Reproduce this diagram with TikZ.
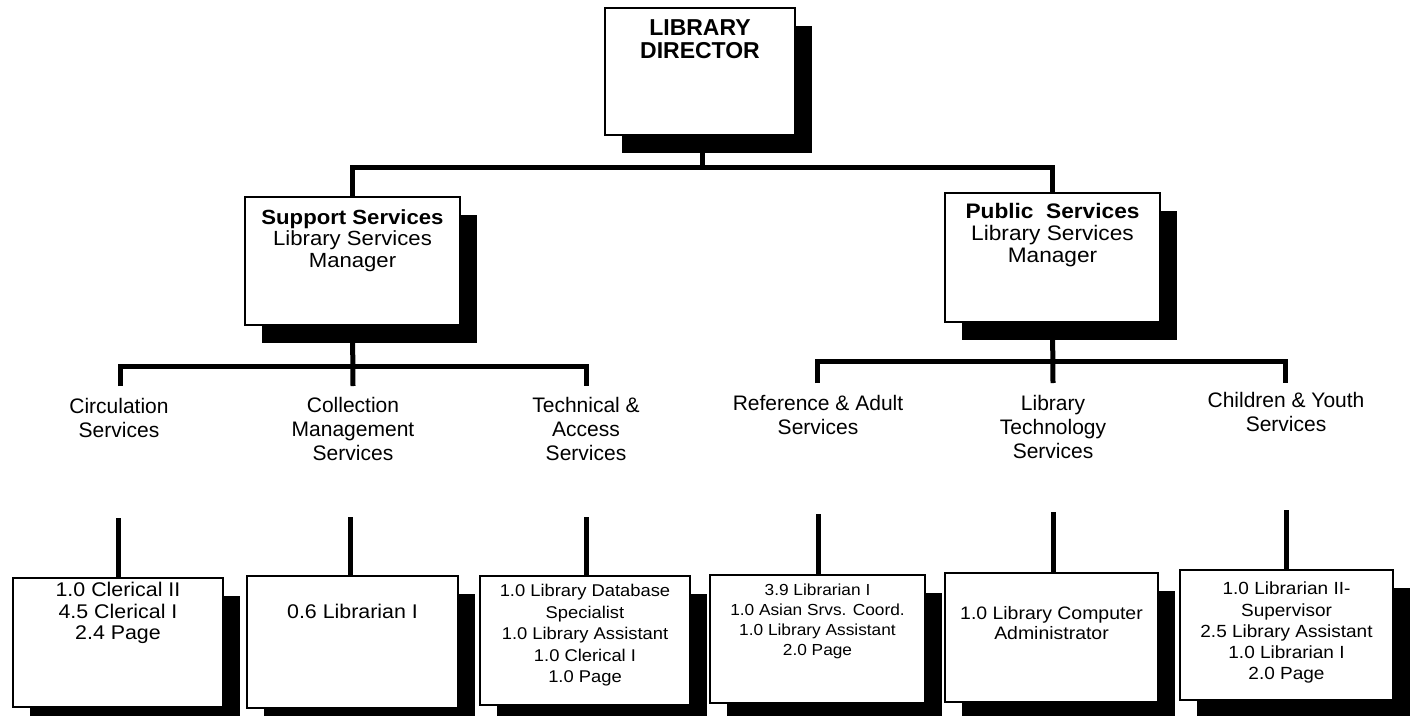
\documentclass[tikz,border=0pt]{standalone}
\usepackage{fontspec}
\setmainfont{Liberation Sans}
\newfontfamily\bxfont[FakeStretch=1.08]{Liberation Sans}
\usetikzlibrary{shadows}
\begin{document}
\begin{tikzpicture}[x=1pt,y=-1pt,
  box/.style={draw=black, line width=1.3pt, fill=white, inner sep=0pt, outer sep=0pt,
    drop shadow={shadow xshift=17pt, shadow yshift=-18pt, fill=black, opacity=1}},
  conn/.style={line width=5pt, draw=black},
  lab/.style={anchor=north, align=center, inner sep=0pt, font=\fontsize{21}{24}\selectfont},
  boxtxt/.style={anchor=north, align=center, inner sep=0pt}
]
\useasboundingbox (0,0) rectangle (1410,715);
\fill[white] (0,0) rectangle (1410,715);
\clip (0,0) rectangle (1410,715);

% boxes
\node[box, minimum width=190pt, minimum height=127pt] (dir) at (700,71.5) {};
\node[box, minimum width=215pt, minimum height=128pt] (sup) at (352.5,261) {};
\node[box, minimum width=215pt, minimum height=129pt] (pub) at (1052.5,257.5) {};
\node[box, minimum width=210pt, minimum height=129pt] (b1) at (118,642.5) {};
\node[box, minimum width=211pt, minimum height=132pt] (b2) at (352.5,642) {};
\node[box, minimum width=210pt, minimum height=129pt] (b3) at (585,640.5) {};
\node[box, minimum width=215pt, minimum height=128pt] (b4) at (817.5,639) {};
\node[box, minimum width=213pt, minimum height=129pt] (b5) at (1051.5,637.5) {};
\node[box, minimum width=213pt, minimum height=130pt] (b6) at (1286.5,635) {};

% box texts
\node[boxtxt, font=\fontsize{23}{23.5}\selectfont\bfseries] (dirt) at (700,19) {LIBRARY\\DIRECTOR};
\node[boxtxt, font=\bxfont\fontsize{20.5}{21.5}\selectfont] (supt) at (352.5,209) {\textbf{Support Services}\\Library Services\\Manager};
\node[boxtxt, font=\bxfont\fontsize{21}{22}\selectfont] (pubt) at (1052.5,203) {\textbf{Public\ \ Services}\\Library Services\\Manager};
\node[boxtxt, font=\bxfont\fontsize{19.8}{21.5}\selectfont] (b1t) at (118,582) {1.0 Clerical II\\4.5 Clerical I\\2.4 Page};
\node[boxtxt, font=\bxfont\fontsize{19.8}{21}\selectfont] (b2t) at (352.5,604) {0.6 Librarian I};
\node[boxtxt, font=\bxfont\fontsize{17}{21.5}\selectfont] (b3t) at (585,584) {1.0 Library Database\\Specialist\\1.0 Library Assistant\\1.0 Clerical I\\1.0 Page};
\node[boxtxt, font=\bxfont\fontsize{16}{20}\selectfont] (b4t) at (817.5,584) {3.9 Librarian I\\1.0 Asian Srvs. Coord.\\1.0 Library Assistant\\2.0 Page};
\node[boxtxt, font=\bxfont\fontsize{18}{20}\selectfont] (b5t) at (1051.5,606) {1.0 Library Computer\\Administrator};
\node[boxtxt, font=\bxfont\fontsize{17.6}{21.2}\selectfont] (b6t) at (1286.5,582) {1.0 Librarian II-\\Supervisor\\2.5 Library Assistant\\1.0 Librarian I\\2.0 Page};

% labels
\node[lab] (circ) at (119,398) {Circulation\\Services};
\node[lab] (coll) at (353,397) {Collection\\Management\\Services};
\node[lab] (tech) at (586,397) {Technical \&\\Access\\Services};
\node[lab] (ref) at (818,395) {Reference \& Adult\\Services};
\node[lab] (libt) at (1053,395) {Library\\Technology\\Services};
\node[lab] (child) at (1286,392) {Children \& Youth\\Services};

% coordinates
\coordinate (topbar) at (702,167);
\coordinate (sbar) at (353,366);
\coordinate (pbar) at (1053,361);
\coordinate (c1) at (120,386);
\coordinate (c2) at (353,386);
\coordinate (c3) at (586,386);
\coordinate (p1) at (817,383);
\coordinate (p2) at (1053,383);
\coordinate (p3) at (1285,383);
\coordinate (t1) at (118,518);
\coordinate (t2) at (350,517);
\coordinate (t3) at (586,517);
\coordinate (t4) at (818,514);
\coordinate (t5) at (1053,512);
\coordinate (t6) at (1286,510);

% connectors
\draw[conn] (dir.south -| topbar) -- (topbar);
\draw[conn] (sup.north) -- (sup.north |- topbar) -- (pub.north |- topbar) -- (pub.north);
\draw[conn] (sup.south) -- (c2);
\draw[conn] (c1) |- (sbar) -| (c3);
\draw[conn] (pub.south) -- (p2);
\draw[conn] (p1) |- (pbar) -| (p3);
\draw[conn] (t1) -- (b1.north -| t1);
\draw[conn] (t2) -- (b2.north -| t2);
\draw[conn] (t3) -- (b3.north -| t3);
\draw[conn] (t4) -- (b4.north -| t4);
\draw[conn] (t5) -- (b5.north -| t5);
\draw[conn] (t6) -- (b6.north -| t6);
\end{tikzpicture}
\end{document}
